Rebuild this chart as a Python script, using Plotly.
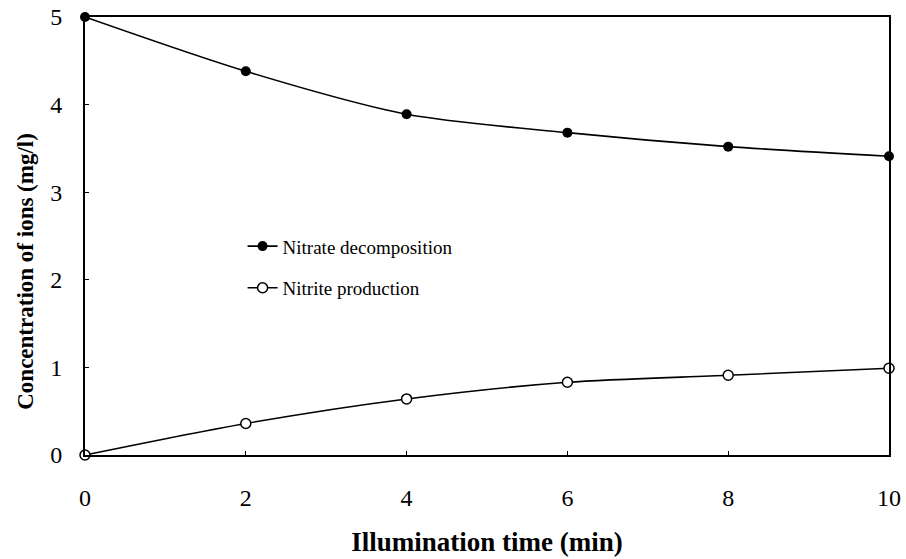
import plotly.graph_objects as go

# Illumination time (min)
time_min = [0, 2, 4, 6, 8, 10]

# Ion concentrations (mg/l)
nitrate = [5.0, 4.38, 3.89, 3.68, 3.52, 3.41]
nitrite = [0.0, 0.36, 0.64, 0.83, 0.91, 0.99]

x_ticks = [0, 2, 4, 6, 8, 10]
y_ticks = [0, 1, 2, 3, 4, 5]

serif = "Liberation Serif, Times New Roman, serif"

fig = go.Figure()

fig.add_trace(go.Scatter(
    x=time_min, y=nitrate, name="Nitrate decomposition",
    mode="lines+markers", line=dict(color="black", width=1.6, shape="spline", smoothing=0.8),
    marker=dict(symbol="circle", size=10, color="black"),
    legendgroup="a", cliponaxis=False,
))
fig.add_trace(go.Scatter(
    x=time_min, y=nitrite, name="Nitrite production",
    mode="lines+markers", line=dict(color="black", width=1.6, shape="spline", smoothing=0.8),
    marker=dict(symbol="circle", size=10, color="white", line=dict(color="black", width=1.5)),
    legendgroup="b", cliponaxis=False,
))

# vertical axis title, placed as a rotated annotation
fig.add_annotation(
    text="<b>Concentration of ions (mg/l)</b>",
    xref="paper", yref="paper", x=-0.075, y=0.42,
    xanchor="center", yanchor="middle", textangle=-90, showarrow=False,
    font=dict(size=23, family=serif, color="black"),
)

fig.update_layout(
    width=906, height=559,
    margin=dict(l=85, r=17, t=17, b=104, autoexpand=False),
    paper_bgcolor="white", plot_bgcolor="white",
    font=dict(family=serif, color="black"),
    showlegend=True,
    legend=dict(
        x=0.196, y=0.52, xanchor="left", yanchor="top",
        bgcolor="rgba(0,0,0,0)", font=dict(size=19, family=serif),
        traceorder="grouped", tracegroupgap=14,
    ),
    xaxis=dict(
        range=[0, 10], tickvals=x_ticks, ticktext=[str(v) for v in x_ticks],
        showline=True, linecolor="black", linewidth=2, mirror=True,
        showgrid=False, zeroline=False, automargin=False,
        ticks="inside", ticklen=4, tickcolor="black",
        tickfont=dict(size=24, family=serif), ticklabelstandoff=20,
        title=dict(text="<b>Illumination time (min)</b>", font=dict(size=27, family=serif), standoff=22),
    ),
    yaxis=dict(
        range=[0, 5], tickvals=y_ticks, ticktext=[str(v) for v in y_ticks],
        showline=True, linecolor="black", linewidth=2, mirror=True,
        showgrid=False, zeroline=False, automargin=False,
        ticks="inside", ticklen=4, tickcolor="black",
        tickfont=dict(size=24, family=serif), ticklabelstandoff=16,
    ),
)

fig.write_html("out.html")
